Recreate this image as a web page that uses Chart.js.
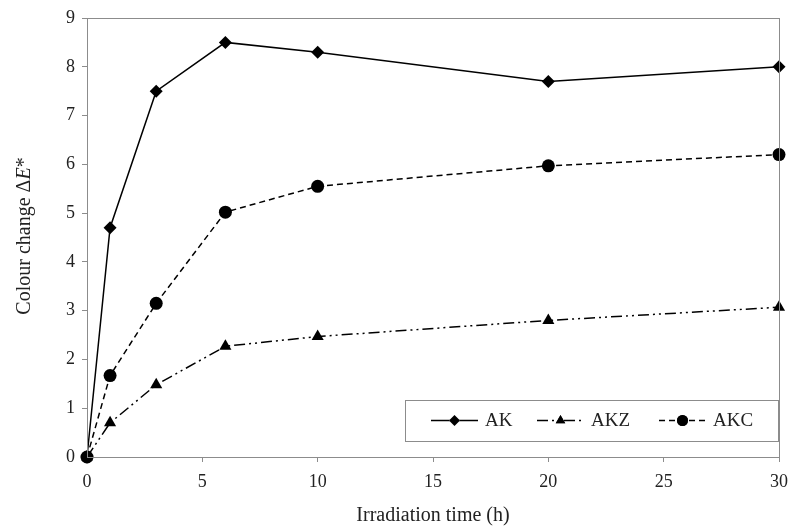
<!DOCTYPE html>
<html lang="en">
<head>
  <meta charset="UTF-8" />
  <title>Colour change</title>
  <script src="https://cdn.jsdelivr.net/npm/chart.js"></script>
  <style>
    html, body { margin: 0; padding: 0; background: #fff; }
    #wrap { width: 790px; height: 528px; }
  </style>
</head>
<body>
  <div id="wrap"><canvas id="chart" width="790" height="528"></canvas></div>

  <script>
    // Data
    const times = [0, 1, 3, 6, 10, 20, 30];
    const akValues = [0, 4.7, 7.5, 8.5, 8.3, 7.7, 8.0];
    const akzValues = [0, 0.7, 1.48, 2.27, 2.47, 2.8, 3.07];
    const akcValues = [0, 1.67, 3.15, 5.02, 5.55, 5.97, 6.2];
    const seriesNames = ['AK', 'AKZ', 'AKC'];
    const xTicks = [0, 5, 10, 15, 20, 25, 30];
    const yTicks = [0, 1, 2, 3, 4, 5, 6, 7, 8, 9];

    const FONT = '"Liberation Serif", "Times New Roman", serif';
    const AXIS_COLOR = '#8c8c8c';
    const TEXT_COLOR = '#222';

    const toPoints = vals => vals.map((v, i) => ({ x: times[i], y: v }));

    const styles = [
      { dash: [], point: 'rectRot', radius: 6.5 },
      { dash: [11, 4, 2, 4, 2, 4], point: 'triangle', radius: 7 },
      { dash: [6, 4], point: 'circle', radius: 6.5 }
    ];

    const datasets = [akValues, akzValues, akcValues].map((vals, i) => ({
      label: seriesNames[i],
      data: toPoints(vals),
      borderColor: '#000',
      backgroundColor: '#000',
      borderWidth: 1.5,
      borderDash: styles[i].dash,
      pointStyle: styles[i].point,
      pointRadius: styles[i].radius,
      pointBorderWidth: 0,
      tension: 0,
      clip: false
    }));

    // box around plot, axis titles and inner legend
    const decorations = {
      id: 'decorations',
      afterDraw(chart) {
        const ctx = chart.ctx;
        const a = chart.chartArea;
        ctx.save();
        ctx.strokeStyle = AXIS_COLOR;
        ctx.lineWidth = 1;
        ctx.strokeRect(a.left + 0.5, a.top + 0.5, a.right - a.left, a.bottom - a.top);

        // x title
        ctx.fillStyle = TEXT_COLOR;
        ctx.font = '20px ' + FONT;
        ctx.textAlign = 'center';
        ctx.textBaseline = 'middle';
        ctx.fillText('Irradiation time (h)', (a.left + a.right) / 2, 516);

        // y title with italic E
        ctx.save();
        ctx.translate(25, 236);
        ctx.rotate(-Math.PI / 2);
        const parts = [
          { t: 'Colour change \u0394', f: '20px ' + FONT },
          { t: 'E', f: 'italic 20px ' + FONT },
          { t: '*', f: '20px ' + FONT }
        ];
        let total = 0;
        parts.forEach(p => { ctx.font = p.f; total += ctx.measureText(p.t).width; });
        let x = -total / 2;
        ctx.textAlign = 'left';
        parts.forEach(p => {
          ctx.font = p.f;
          ctx.fillText(p.t, x, 0);
          x += ctx.measureText(p.t).width;
        });
        ctx.restore();

        // legend box
        const lx = 405, ly = 400, lw = 373, lh = 41;
        ctx.fillStyle = '#fff';
        ctx.fillRect(lx, ly, lw, lh);
        ctx.strokeStyle = AXIS_COLOR;
        ctx.strokeRect(lx + 0.5, ly + 0.5, lw, lh);
        const cy = ly + lh / 2;
        const starts = [431, 537, 659];
        chart.data.datasets.forEach((ds, i) => {
          const sx = starts[i];
          ctx.strokeStyle = '#000';
          ctx.lineWidth = 1.5;
          ctx.setLineDash(ds.borderDash);
          ctx.beginPath();
          ctx.moveTo(sx, cy);
          ctx.lineTo(sx + 47, cy);
          ctx.stroke();
          ctx.setLineDash([]);
          Chart.helpers.drawPoint(ctx, { pointStyle: ds.pointStyle, radius: 5.5, borderWidth: 0 }, sx + 23.5, cy);
          ctx.fillStyle = '#000';
          ctx.fill();
          ctx.fillStyle = TEXT_COLOR;
          ctx.font = '19px ' + FONT;
          ctx.textAlign = 'left';
          ctx.fillText(ds.label, sx + 54, cy + 1);
        });
        ctx.restore();
      }
    };

    new Chart(document.getElementById('chart'), {
      type: 'line',
      data: { datasets },
      options: {
        responsive: false,
        animation: false,
        layout: { padding: { left: 0, top: 18, right: 11, bottom: 0 } },
        plugins: { legend: { display: false }, tooltip: { enabled: false } },
        scales: {
          x: {
            type: 'linear',
            min: 0,
            max: 30,
            afterFit: s => { s.height = 71; s.paddingLeft = 0; s.paddingRight = 0; },
            afterBuildTicks: s => { s.ticks = xTicks.map(v => ({ value: v })); },
            grid: { drawOnChartArea: false, tickLength: 5, color: AXIS_COLOR },
            border: { color: AXIS_COLOR },
            ticks: { color: TEXT_COLOR, padding: 9, font: { family: FONT, size: 18 } }
          },
          y: {
            min: 0,
            max: 9,
            afterFit: s => { s.width = 87; s.paddingTop = 0; s.paddingBottom = 0; },
            afterBuildTicks: s => { s.ticks = yTicks.map(v => ({ value: v })); },
            grid: { drawOnChartArea: false, tickLength: 5, color: AXIS_COLOR },
            border: { color: AXIS_COLOR },
            ticks: { color: TEXT_COLOR, padding: 7, font: { family: FONT, size: 18 } }
          }
        }
      },
      plugins: [decorations]
    });
  </script>
</body>
</html>
